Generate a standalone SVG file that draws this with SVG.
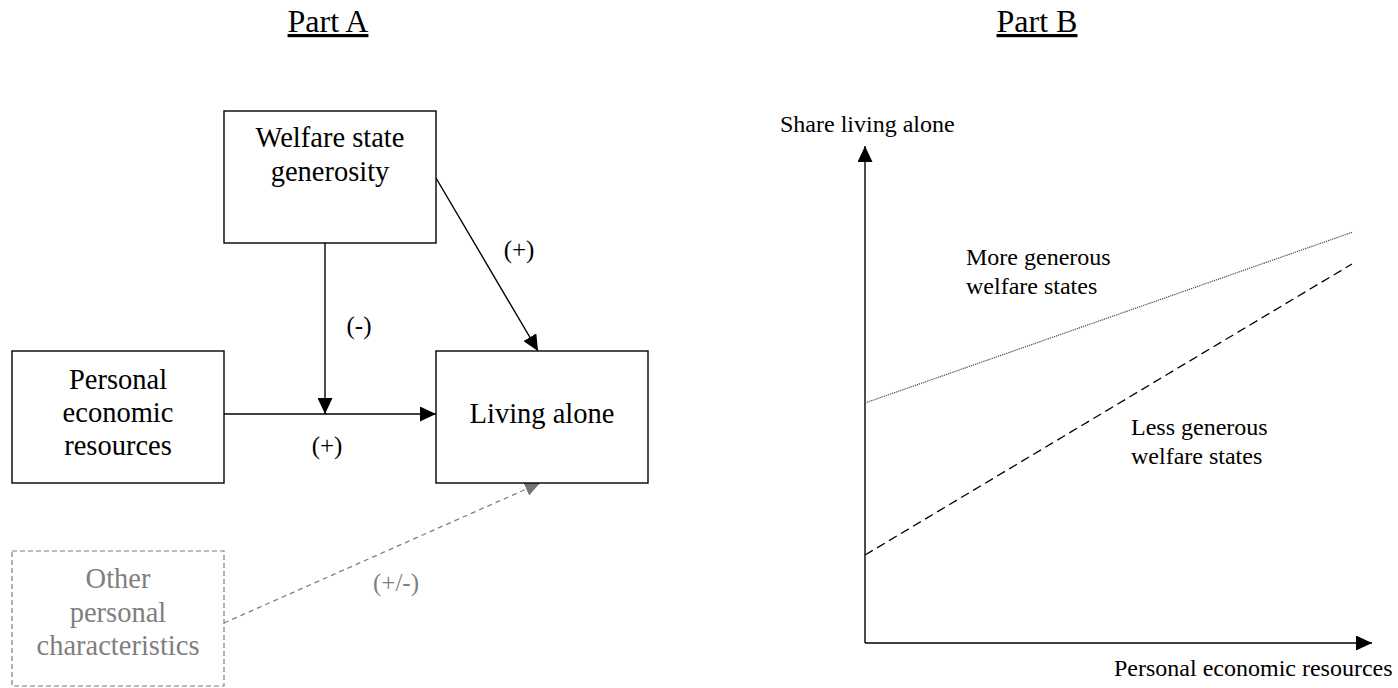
<svg xmlns="http://www.w3.org/2000/svg" width="1398" height="688" viewBox="0 0 1398 688">
<style>
text{font-family:"Liberation Serif","Times New Roman",serif;fill:#000}
.box{fill:#fff;stroke:#000;stroke-width:1.4}
.gbox{fill:#fff;stroke:#7f7f7f;stroke-width:1.2;stroke-dasharray:5 3}
.big{font-size:28.5px;text-anchor:middle}
.lbl{font-size:25px;text-anchor:middle}
.small{font-size:24px}
.title{font-size:32px;text-anchor:middle;text-decoration:underline}
.gray{fill:#7f7f7f}
.ln{stroke:#000;stroke-width:1.4;fill:none}
.gln{stroke:#7f7f7f;stroke-width:1.3;fill:none;stroke-dasharray:5 4}
</style>
<defs>
<marker id="ah" markerUnits="userSpaceOnUse" markerWidth="16" markerHeight="15" refX="16" refY="7.5" orient="auto"><path d="M0,0 L16,7.5 L0,15 z" fill="#000"/></marker>
<marker id="gah" markerUnits="userSpaceOnUse" markerWidth="15" markerHeight="14" refX="15" refY="7" orient="auto"><path d="M0,0 L15,7 L0,14 z" fill="#737373"/></marker>
</defs>
<rect width="1398" height="688" fill="#fff"/>
<text class="title" x="328" y="32">Part A</text>
<text class="title" x="1037" y="32">Part B</text>
<g id="connectors">
<line class="ln" x1="325" y1="243" x2="325" y2="414" marker-end="url(#ah)"/>
<line class="ln" x1="224" y1="414" x2="436" y2="414" marker-end="url(#ah)"/>
<line class="ln" x1="436" y1="178" x2="538" y2="351" marker-end="url(#ah)"/>
<line class="gln" x1="224" y1="623" x2="540" y2="483" marker-end="url(#gah)"/>
<text class="lbl" x="519" y="258">(+)</text>
<text class="lbl" x="359" y="334">(-)</text>
<text class="lbl" x="327" y="454">(+)</text>
<text class="lbl gray" x="396" y="591">(+/-)</text>
</g>
<g id="welfare">
<rect class="box" x="224" y="111" width="212" height="132"/>
<text class="big" x="330" y="147">Welfare state</text>
<text class="big" x="330" y="181">generosity</text>
</g>
<g id="personal">
<rect class="box" x="12" y="351" width="212" height="132"/>
<text class="big" x="118" y="389">Personal</text>
<text class="big" x="118" y="422">economic</text>
<text class="big" x="118" y="455">resources</text>
</g>
<g id="living">
<rect class="box" x="436" y="351" width="212" height="132"/>
<text class="big" x="542" y="423">Living alone</text>
</g>
<g id="other">
<rect class="gbox" x="12" y="551" width="212" height="135"/>
<text class="big gray" x="118" y="588">Other</text>
<text class="big gray" x="118" y="622">personal</text>
<text class="big gray" x="118" y="655">characteristics</text>
</g>
<g id="chart">
<line class="ln" x1="865" y1="643" x2="865" y2="146" marker-end="url(#ah)"/>
<line class="ln" x1="865" y1="643" x2="1372" y2="643" marker-end="url(#ah)"/>
<line x1="865" y1="403" x2="1353" y2="232" stroke="#444" stroke-width="1.2" stroke-dasharray="1.2 1"/>
<line x1="865" y1="555" x2="1352" y2="264" stroke="#000" stroke-width="1.3" stroke-dasharray="9 5"/>
<text class="small" x="780" y="132">Share living alone</text>
<text class="small" x="1114" y="676">Personal economic resources</text>
<text class="small" x="966" y="265">More generous</text>
<text class="small" x="966" y="294">welfare states</text>
<text class="small" x="1131" y="435">Less generous</text>
<text class="small" x="1131" y="464">welfare states</text>
</g>
</svg>
